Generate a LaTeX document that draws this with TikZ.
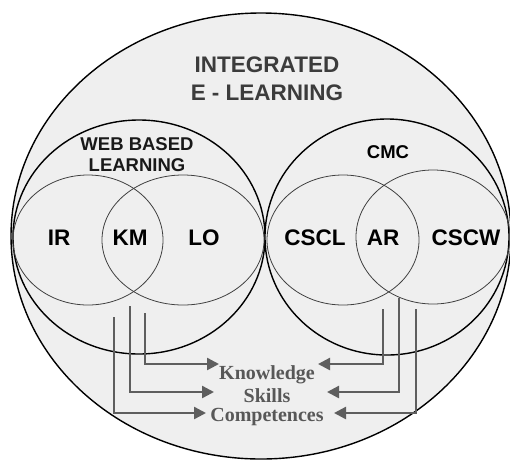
\documentclass[tikz,border=0pt]{standalone}
\usepackage{fontspec}
\setmainfont{Liberation Sans}
\newfontfamily\serifbold{Liberation Serif}
\usetikzlibrary{arrows.meta}
\definecolor{bgfill}{HTML}{EFEFEF}
\definecolor{arrowgray}{HTML}{5E5E5E}
\definecolor{textgray}{HTML}{585858}
\definecolor{titlegray}{HTML}{3C3C3C}
\tikzset{
  bigring/.style={draw=black, line width=1.4pt, fill=bgfill},
  smallring/.style={draw=black!75, line width=0.8pt},
  bigtitle/.style={font=\bfseries\fontsize{22.5}{28}\selectfont, text=titlegray, align=center, inner sep=0pt},
  midtitle/.style={font=\bfseries\fontsize{18.5}{21}\selectfont, text=black!90, align=center, inner sep=0pt},
  cmctitle/.style={font=\bfseries\fontsize{18.5}{21}\selectfont, inner sep=0pt},
  setlabel/.style={font=\bfseries\fontsize{22.5}{26}\selectfont, inner sep=0pt},
  outcome/.style={font=\serifbold\bfseries\fontsize{20}{22}\selectfont, text=textgray, inner sep=0pt},
  flow/.style={draw=arrowgray, line width=2.4pt, -{Triangle[length=12pt,width=12pt]}},
}
\begin{document}
\begin{tikzpicture}[x=1pt,y=-1pt]
\useasboundingbox (0,0) rectangle (510,459);
\fill[white] (0,0) rectangle (510,459);
% outer ellipse
\draw[bigring] (261,236) ellipse [x radius=250pt, y radius=223pt];
% big circles
\draw[bigring] (139,237) ellipse [x radius=126pt, y radius=117pt];
\draw[bigring] (387,237) ellipse [x radius=122pt, y radius=118pt];
% inner ellipses
\draw[smallring] (88,240) ellipse [x radius=75pt, y radius=65pt];
\draw[smallring] (183,240) ellipse [x radius=81pt, y radius=65pt];
\draw[smallring] (343,240) ellipse [x radius=76pt, y radius=65pt];
\draw[smallring] (433,237) ellipse [x radius=77pt, y radius=67pt];
% titles
\node[bigtitle] (integ) at (267,79) {INTEGRATED\\E - LEARNING};
\node[midtitle] (web) at (137,155) {WEB BASED\\LEARNING};
\node[cmctitle] (cmc) at (388,152) {CMC};
% set labels
\node[setlabel] (ir) at (59,238) {IR};
\node[setlabel] (km) at (130,238) {KM};
\node[setlabel] (lo) at (204,238) {LO};
\node[setlabel] (cscl) at (315,238) {CSCL};
\node[setlabel] (ar) at (383,238) {AR};
\node[setlabel] (cscw) at (466,238) {CSCW};
% outcomes
\node[outcome] (know) at (267,375) {Knowledge};
\node[outcome] (skill) at (267,396) {Skills};
\node[outcome] (comp) at (267,417) {Competences};
% arrow start points and tips
\coordinate (l1) at (145,313); \coordinate (lt1) at (219,364);
\coordinate (l2) at (130,306); \coordinate (lt2) at (214,392);
\coordinate (l3) at (114,317); \coordinate (lt3) at (206,413);
\coordinate (r1) at (383,309); \coordinate (rt1) at (318,364);
\coordinate (r2) at (399,298); \coordinate (rt2) at (327,392);
\coordinate (r3) at (416,309); \coordinate (rt3) at (334,413);
\draw[flow] (l1) |- (lt1);
\draw[flow] (l2) |- (lt2);
\draw[flow] (l3) |- (lt3);
\draw[flow] (r1) |- (rt1);
\draw[flow] (r2) |- (rt2);
\draw[flow] (r3) |- (rt3);
\end{tikzpicture}
\end{document}
